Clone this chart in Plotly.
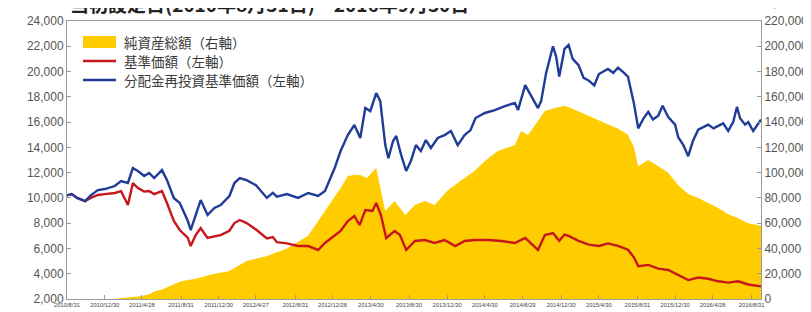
import plotly.graph_objects as go

# ---------------- data ----------------
asset_dates = ["2010-08-31", "2011-01-31", "2011-02-20", "2011-04-15", "2011-05-21", "2011-06-06",
               "2011-07-01", "2011-08-31", "2011-10-17", "2011-12-16", "2012-01-31", "2012-03-28",
               "2012-06-01", "2012-08-04", "2012-10-11", "2012-12-04", "2013-01-23", "2013-02-15",
               "2013-03-08", "2013-03-27", "2013-04-17", "2013-05-17", "2013-05-30", "2013-06-15",
               "2013-07-15", "2013-08-18", "2013-09-18", "2013-10-20", "2013-11-20", "2013-12-30",
               "2014-02-10", "2014-03-28", "2014-04-30", "2014-06-10", "2014-08-04", "2014-08-24",
               "2014-09-15", "2014-10-17", "2014-11-08", "2014-12-10", "2015-01-10", "2015-02-10",
               "2015-03-12", "2015-04-15", "2015-05-29", "2015-06-30", "2015-08-01", "2015-08-20",
               "2015-09-03", "2015-10-05", "2015-11-06", "2015-12-08", "2016-01-09", "2016-02-10",
               "2016-03-13", "2016-04-14", "2016-05-16", "2016-06-17", "2016-07-19", "2016-08-20",
               "2016-09-30"]
asset_values = [0, 0, 800, 2000, 3500, 6000,
                7500, 14000, 16000, 20000, 22000, 30000,
                34000, 40000, 50000, 69640, 87840, 97340,
                98130, 98130, 95760, 103670, 87840, 69640,
                77550, 66470, 74390, 77550, 74390, 85470,
                93380, 101290, 109210, 117120, 121870, 132950,
                129780, 140860, 148780, 151150, 153000, 150000,
                147000, 143000, 138000, 135000, 130000, 120000,
                105000, 110000, 105000, 100000, 90000, 83000,
                80000, 76000, 72000, 67000, 64000, 60000,
                58000]

nav_dates = ["2010-08-31", "2010-09-15", "2010-10-02", "2010-10-28", "2010-11-15", "2010-12-08",
             "2010-12-30", "2011-01-31", "2011-02-20", "2011-03-14", "2011-03-30", "2011-04-15",
             "2011-05-05", "2011-05-21", "2011-06-06", "2011-07-01", "2011-07-17", "2011-08-08",
             "2011-08-27", "2011-09-22", "2011-10-01", "2011-10-17", "2011-11-02", "2011-11-24",
             "2011-12-16", "2012-01-05", "2012-02-02", "2012-02-18", "2012-03-06", "2012-03-28",
             "2012-04-27", "2012-06-01", "2012-06-20", "2012-07-03", "2012-08-04", "2012-09-09",
             "2012-10-11", "2012-11-12", "2012-12-04", "2013-01-23", "2013-02-15", "2013-03-08",
             "2013-03-25", "2013-04-12", "2013-05-05", "2013-05-17", "2013-06-01", "2013-06-18",
             "2013-07-15", "2013-08-01", "2013-08-21", "2013-09-18", "2013-10-20", "2013-11-20",
             "2013-12-22", "2014-01-25", "2014-02-24", "2014-03-28", "2014-05-10", "2014-06-22",
             "2014-08-04", "2014-09-06", "2014-10-17", "2014-11-08", "2014-12-04", "2014-12-24",
             "2015-01-10", "2015-01-23", "2015-02-24", "2015-03-28", "2015-04-30", "2015-05-29",
             "2015-06-30", "2015-08-01", "2015-08-20", "2015-09-03", "2015-10-05", "2015-11-06",
             "2015-12-08", "2016-01-09", "2016-02-10", "2016-03-13", "2016-04-14", "2016-05-16",
             "2016-06-17", "2016-07-19", "2016-08-20", "2016-09-30"]
nav_values = [10200, 10300, 10000, 9750, 10000, 10230,
              10300, 10390, 10540, 9440, 11180, 10780,
              10500, 10540, 10300, 10540, 9600, 8170,
              7460, 6830, 6190, 7060, 7620, 6830,
              6950, 7060, 7400, 8010, 8250, 8010,
              7500, 6800, 6900, 6500, 6400, 6200,
              6190, 5880, 6430, 7380, 8170, 8570,
              7850, 9040, 8960, 9600, 8650, 6830,
              7380, 7060, 5880, 6590, 6670, 6430,
              6670, 6190, 6590, 6670, 6670, 6590,
              6430, 6830, 5880, 7060, 7220, 6600,
              7100, 7000, 6600, 6300, 6200, 6400,
              6200, 5900, 5300, 4600, 4700, 4400,
              4300, 3900, 3500, 3700, 3600, 3400,
              3300, 3400, 3150, 3000]

reinv_dates = ["2010-08-31", "2010-09-15", "2010-10-02", "2010-10-28", "2010-11-15", "2010-12-08",
               "2010-12-30", "2011-01-31", "2011-02-20", "2011-03-14", "2011-03-30", "2011-04-15",
               "2011-05-05", "2011-05-21", "2011-06-06", "2011-07-01", "2011-07-17", "2011-08-08",
               "2011-08-27", "2011-09-22", "2011-10-01", "2011-10-17", "2011-11-02", "2011-11-24",
               "2011-12-16", "2012-01-05", "2012-02-02", "2012-02-18", "2012-03-06", "2012-03-28",
               "2012-04-27", "2012-06-01", "2012-06-20", "2012-07-03", "2012-08-04", "2012-09-09",
               "2012-10-11", "2012-11-12", "2012-12-04", "2013-01-04", "2013-01-23", "2013-02-15",
               "2013-03-08", "2013-03-27", "2013-04-12", "2013-04-28", "2013-05-17", "2013-05-30",
               "2013-06-15", "2013-06-25", "2013-07-10", "2013-07-20", "2013-08-05", "2013-08-21",
               "2013-09-05", "2013-09-21", "2013-10-07", "2013-10-23", "2013-11-08", "2013-11-30",
               "2013-12-22", "2014-01-11", "2014-02-02", "2014-02-24", "2014-03-15", "2014-03-31",
               "2014-04-30", "2014-06-01", "2014-07-03", "2014-08-04", "2014-08-14", "2014-09-06",
               "2014-09-25", "2014-10-17", "2014-10-27", "2014-11-12", "2014-12-04", "2014-12-14",
               "2014-12-24", "2015-01-10", "2015-01-23", "2015-02-05", "2015-02-24", "2015-03-12",
               "2015-03-28", "2015-04-15", "2015-04-30", "2015-05-29", "2015-06-15", "2015-06-30",
               "2015-07-15", "2015-08-01", "2015-08-20", "2015-09-03", "2015-09-20", "2015-10-05",
               "2015-10-20", "2015-11-06", "2015-11-20", "2015-12-08", "2015-12-30", "2016-01-09",
               "2016-01-25", "2016-02-10", "2016-02-25", "2016-03-13", "2016-04-14", "2016-05-01",
               "2016-05-16", "2016-06-01", "2016-06-17", "2016-07-03", "2016-07-15", "2016-07-25",
               "2016-08-10", "2016-08-20", "2016-09-05", "2016-09-30"]
reinv_values = [10200, 10300, 10000, 9750, 10200, 10620,
                10700, 10940, 11340, 11180, 12360, 12130,
                11730, 11970, 11570, 12200, 11410, 9990,
                9600, 8170, 7460, 8650, 9830, 8650,
                9200, 9440, 10150, 11180, 11570, 11400,
                11000, 10000, 10400, 10100, 10300, 10000,
                10390, 10150, 10540, 12360, 13710, 14970,
                15770, 14740, 17110, 16870, 18300, 17660,
                14180, 13150, 14500, 14900, 13390, 12130,
                12920, 14180, 13710, 14580, 13950, 14740,
                14970, 15290, 14180, 14970, 15370, 16320,
                16720, 16950, 17270, 17510, 16950, 18930,
                18140, 17110, 17660, 19880, 22000, 21200,
                19600, 21800, 22100, 21000, 20500, 19500,
                19300, 18900, 19800, 20200, 19900, 20300,
                20000, 19600, 17500, 15500, 16300, 16800,
                16200, 16500, 17300, 16400, 15800, 14800,
                14200, 13300, 14500, 15400, 15800, 15500,
                15700, 15900, 15300, 16000, 17200, 16300,
                15800, 16000, 15300, 16200]

tick_dates = ["2010-08-31", "2010-12-30", "2011-04-28", "2011-08-31", "2011-12-30", "2012-04-27",
              "2012-08-31", "2012-12-28", "2013-04-30", "2013-08-30", "2013-12-30", "2014-04-30",
              "2014-08-29", "2014-12-30", "2015-04-30", "2015-08-31", "2015-12-30", "2016-04-28",
              "2016-08-31"]
tick_labels = ["2010/8/31", "2010/12/30", "2011/4/28", "2011/8/31", "2011/12/30", "2012/4/27",
               "2012/8/31", "2012/12/28", "2013/4/30", "2013/8/30", "2013/12/30", "2014/4/30",
               "2014/8/29", "2014/12/30", "2015/4/30", "2015/8/31", "2015/12/30", "2016/4/28",
               "2016/8/31"]
left_ticks = list(range(2000, 24001, 2000))
right_ticks = list(range(0, 220001, 20000))

series_names = ["純資産総額（右軸）", "基準価額（左軸）", "分配金再投資基準価額（左軸）"]
title_text = "当初設定日(2010年8月31日)～2016年9月30日"

# ---------------- styling / layout ----------------
W, H = 811, 312
L, R, T, B = 59, 58, 13, 21
PW, PH = W - L - R, H - T - B
YELLOW, RED, BLUE = "#FFCC00", "#C8161D", "#1F3C98"
AXC = "#9a9a9a"
TXT = "#555555"
JP = "Noto Sans CJK JP"


def px(xp):
    return (xp - L) / PW


def py(yp):
    return (H - B - yp) / PH


fig = go.Figure()
fig.add_trace(go.Scatter(x=asset_dates, y=asset_values, name=series_names[0], mode="lines",
                         fill="tozeroy", fillcolor=YELLOW, line=dict(width=0, color=YELLOW),
                         yaxis="y"))
fig.add_trace(go.Scatter(x=nav_dates, y=nav_values, name=series_names[1], mode="lines",
                         line=dict(width=2.4, color=RED), yaxis="y2"))
fig.add_trace(go.Scatter(x=reinv_dates, y=reinv_values, name=series_names[2], mode="lines",
                         line=dict(width=2.4, color=BLUE), yaxis="y2"))

axis_common = dict(showgrid=False, zeroline=False, showline=True, linecolor=AXC, linewidth=1,
                   ticks="inside", ticklen=4, tickcolor=AXC, tickwidth=1, automargin=False)

fig.update_layout(
    width=W, height=H, margin=dict(l=L, r=R, t=T, b=B, pad=0, autoexpand=False),
    paper_bgcolor="white", plot_bgcolor="white", showlegend=False,
    xaxis=dict(type="date", range=["2010-08-31", "2016-09-30"], tickvals=tick_dates,
               ticktext=tick_labels, mirror=True,
               tickfont=dict(family="Liberation Sans", size=5.8, color="#444444"), **axis_common),
    yaxis=dict(side="right", range=[0, 220000], tickvals=right_ticks,
               ticktext=[f"{v:,}" for v in right_ticks],
               tickfont=dict(family="Liberation Sans", size=12, color=TXT), **axis_common),
    yaxis2=dict(side="left", overlaying="y", range=[2000, 24000], tickvals=left_ticks,
                ticktext=[f"{v:,}" for v in left_ticks],
                tickfont=dict(family="Liberation Sans", size=12, color=TXT), **axis_common),
)

annotations = [
    dict(text="<b>" + title_text + "</b>", x=px(60), y=py(-4), xanchor="left", yanchor="middle",
         font=dict(family=JP, size=19, color="#222222")),
    dict(text="(円)", x=px(38), y=py(-6), xanchor="center", yanchor="middle",
         font=dict(family=JP, size=10, color=TXT)),
    dict(text="(百万円)", x=px(782), y=py(-5), xanchor="center", yanchor="middle",
         font=dict(family=JP, size=10, color=TXT)),
]
legend_rows = [34, 53, 72]
for name, yrow in zip(series_names, legend_rows):
    annotations.append(dict(text=name, x=px(114), y=py(yrow), xanchor="left", yanchor="middle",
                            font=dict(family=JP, size=13.5, color="#3a3a3a")))
for a in annotations:
    a.update(xref="paper", yref="paper", showarrow=False)
fig.update_layout(annotations=annotations)

shapes = [
    dict(type="rect", x0=px(75), x1=px(108), y0=py(40), y1=py(28), fillcolor=YELLOW,
         line=dict(width=0)),
    dict(type="line", x0=px(75), x1=px(108), y0=py(legend_rows[1]), y1=py(legend_rows[1]),
         line=dict(color=RED, width=2.5)),
    dict(type="line", x0=px(75), x1=px(108), y0=py(legend_rows[2]), y1=py(legend_rows[2]),
         line=dict(color=BLUE, width=2.5)),
]
for s in shapes:
    s.update(xref="paper", yref="paper")
fig.update_layout(shapes=shapes)

fig.write_html("out.html")
